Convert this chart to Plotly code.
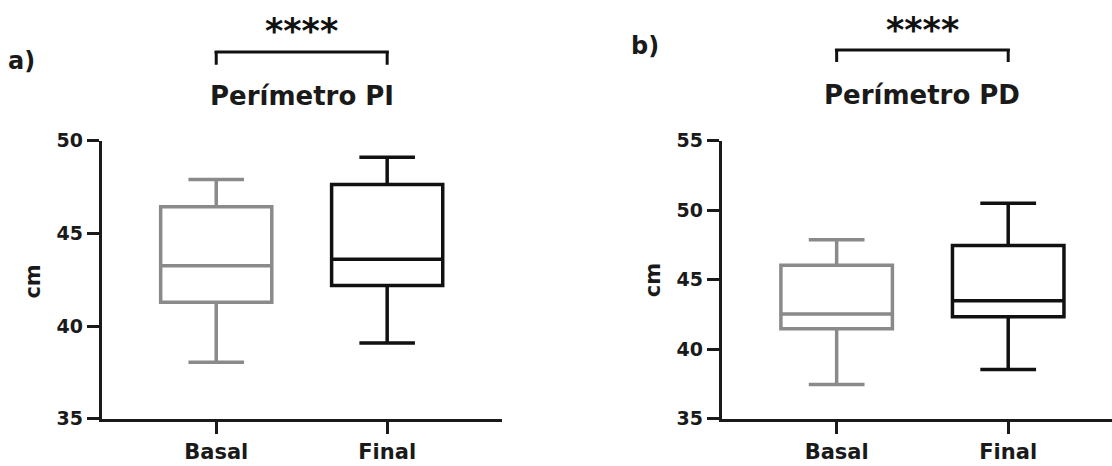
import plotly.graph_objects as go

# ---- data ----
groups = ["Basal", "Final"]
# Panel a) Perímetro PI
pi_lower = [38.05, 39.08]
pi_q1 = [41.28, 42.19]
pi_median = [43.25, 43.6]
pi_q3 = [46.43, 47.63]
pi_upper = [47.9, 49.1]
# Panel b) Perímetro PD
pd_lower = [37.46, 38.54]
pd_q1 = [41.47, 42.33]
pd_median = [42.54, 43.48]
pd_q3 = [46.04, 47.46]
pd_upper = [47.87, 50.5]

titles = ["Perímetro PI", "Perímetro PD"]
panel_labels = ["a)", "b)"]
signif = "****"
yticks_a = [35, 40, 45, 50]
yticks_b = [35, 40, 45, 50, 55]

colors = ["#8a8a8a", "#111111"]
FONT = "DejaVu Sans"
TXT = "#1a1a1a"
W, H = 1112, 466


def px(x):
    return x / W


def py(y):
    return 1 - y / H


fig = go.Figure()


def add_boxes(lower, q1, med, q3, upper, xa, ya):
    for i, g in enumerate(groups):
        fig.add_trace(go.Box(
            x=[g], q1=[q1[i]], median=[med[i]], q3=[q3[i]],
            lowerfence=[lower[i]], upperfence=[upper[i]],
            boxpoints=False, width=0.65, whiskerwidth=0.5,
            line=dict(color=colors[i], width=3.5),
            fillcolor="rgba(0,0,0,0)", showlegend=False,
            xaxis=xa, yaxis=ya, hoverinfo="skip"))


add_boxes(pi_lower, pi_q1, pi_median, pi_q3, pi_upper, "x", "y")
add_boxes(pd_lower, pd_q1, pd_median, pd_q3, pd_upper, "x2", "y2")

ydom = [py(428), py(136)]
axis_common = dict(showline=True, linecolor="#1a1a1a", linewidth=3,
                   ticks="outside", ticklen=12, tickwidth=3, tickcolor="#1a1a1a",
                   showgrid=False, zeroline=False, mirror=False)

fig.update_layout(
    width=W, height=H, margin=dict(l=0, r=0, t=0, b=0),
    paper_bgcolor="white", plot_bgcolor="white",
    xaxis=dict(domain=[px(101.7), px(501.7)], range=[-0.67, 1.67], type="category",
               categoryorder="array", categoryarray=groups,
               tickfont=dict(family=FONT, size=21, color=TXT, weight="bold"),
               anchor="y", **axis_common),
    yaxis=dict(domain=ydom, range=[35, 50], tickvals=yticks_a,
               tickfont=dict(family=FONT, size=19, color=TXT, weight="bold"),
               anchor="x", **axis_common),
    xaxis2=dict(domain=[px(721.7), 1.0], range=[-0.67, 1.605], type="category",
                categoryorder="array", categoryarray=groups,
                tickfont=dict(family=FONT, size=21, color=TXT, weight="bold"),
                anchor="y2", **axis_common),
    yaxis2=dict(domain=ydom, range=[35, 55], tickvals=yticks_b,
                tickfont=dict(family=FONT, size=19, color=TXT, weight="bold"),
                anchor="x2", **axis_common),
)

# annotations: titles, significance, panel labels, y titles
panels = [
    dict(xr="x", title_y=py(89), star_y=py(21), br_top=py(43), br_bot=py(56.5),
         lab_x=px(21.5), lab_y=py(53), cm_x=px(33), cm_y=py(284)),
    dict(xr="x2", title_y=py(88), star_y=py(20), br_top=py(41), br_bot=py(53.5),
         lab_x=px(645), lab_y=py(36.5), cm_x=px(652.5), cm_y=py(283)),
]
for k, p in enumerate(panels):
    fig.add_annotation(x=0.5, y=p["title_y"], xref=p["xr"], yref="paper", text=titles[k],
                       showarrow=False, xanchor="center", yanchor="middle",
                       font=dict(family=FONT, size=26, color=TXT, weight="bold"))
    fig.add_annotation(x=0.5, y=p["star_y"], xref=p["xr"], yref="paper", text=signif,
                       showarrow=False, xanchor="center", yanchor="middle",
                       font=dict(family=FONT, size=35, color="#111111", weight="bold"))
    fig.add_annotation(x=p["lab_x"], y=p["lab_y"], xref="paper", yref="paper", text=panel_labels[k],
                       showarrow=False, xanchor="center", yanchor="middle",
                       font=dict(family=FONT, size=24, color=TXT, weight="bold"))
    fig.add_annotation(x=p["cm_x"], y=p["cm_y"], xref="paper", yref="paper", text="cm",
                       showarrow=False, xanchor="center", yanchor="middle", textangle=-90,
                       font=dict(family=FONT, size=21, color=TXT, weight="bold"))
    # bracket
    ln = dict(color="#111111", width=3)
    fig.add_shape(type="line", xref=p["xr"], yref="paper", x0=-0.01, x1=1.01,
                  y0=p["br_top"], y1=p["br_top"], line=ln)
    for xb in (0, 1):
        fig.add_shape(type="line", xref=p["xr"], yref="paper", x0=xb, x1=xb,
                      y0=p["br_top"], y1=p["br_bot"], line=ln)

fig.write_html(
    "out.html",
    config={"displayModeBar": False, "staticPlot": True},
    post_script="document.body.style.margin='0';"
                "document.documentElement.style.overflow='hidden';"
                "document.body.style.overflow='hidden';",
)
